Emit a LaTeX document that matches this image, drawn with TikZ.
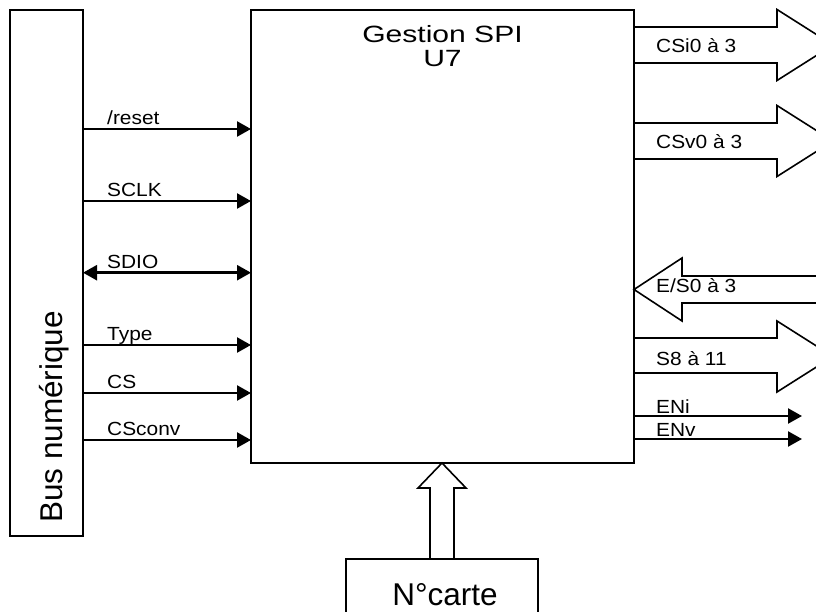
\documentclass[tikz,border=0pt]{standalone}
\usepackage{fontspec}
\setmainfont{Liberation Sans}[FakeStretch=1.1]
\newfontfamily\plainsans{Liberation Sans}
\newfontfamily\titlefont{Liberation Sans}[FakeStretch=1.28]
\usetikzlibrary{arrows.meta}

\begin{document}
\begin{tikzpicture}[x=1pt,y=-1pt,
    >={Triangle[length=14pt,width=15pt]},
    blk/.style={draw, line width=1.8pt, inner sep=0pt, outer sep=0pt, anchor=north west},
    sig/.style={line width=2.4pt, ->},
    bigarrow/.style={line width=1.6pt, line join=miter},
    lab/.style={anchor=base west, inner sep=0pt, font=\fontsize{19}{22}\selectfont},
    titre/.style={anchor=base, inner sep=0pt, font=\titlefont\fontsize{23.5}{26}\selectfont}]
        \useasboundingbox (0,0) rectangle (816,612);
        % Blocks
        \node[blk, minimum width=73, minimum height=526] (bus) at (10,10) {};
        \node[blk, minimum width=383, minimum height=453] (spi) at (251,10) {};
        \node[blk, minimum width=192, minimum height=90] (carte) at (346,559) {};
        % Block texts
        \node[rotate=90, anchor=base west, inner sep=0pt, font=\plainsans\fontsize{31.5}{36}\selectfont] (bustxt) at (62,523) {Bus numérique};
        \node[titre] (titre) at (spi.north |- 0,42.5) {Gestion SPI};
        \node[titre] (ref) at (spi.north |- 0,66.5) {U7};
        \node[anchor=base, inner sep=0pt, font=\plainsans\fontsize{31.5}{36}\selectfont] (cartetxt) at (445,605) {N°carte};
        % Inputs from the bus
        \foreach \y/\txt [count=\i] in {129/{/reset}, 201/SCLK, 345/Type, 393/CS, 440/CSconv} {
          \coordinate (in\i) at (bus.east |- 0,\y);
          \draw[sig] (in\i) -- (in\i -| spi.west);
          \node[lab] (lin\i) at (107,\y-4.5) {\txt};
        }
        \coordinate (sdio) at (bus.east |- 0,272.7);
        \draw[sig, <->] (sdio) -- (sdio -| spi.west);
        \node[lab] (lsdio) at (107,268.2) {SDIO};
        % Outputs
        \draw[bigarrow] (634,27) -- (777,27) -- (777,9.5) -- (833,45) -- (777,80.5) -- (777,63) -- (634,63);
        \node[lab] (lcsi) at (656,52.7) {CSi0 à 3};
        \draw[bigarrow] (634,123) -- (777,123) -- (777,105.5) -- (833,141) -- (777,176.5) -- (777,159) -- (634,159);
        \node[lab] (lcsv) at (656,148.3) {CSv0 à 3};
        \draw[bigarrow] (830,276) -- (682,276) -- (682,258) -- (634,289.5) -- (682,321) -- (682,303) -- (830,303);
        \node[lab] (les) at (656,292.7) {E/S0 à 3};
        \draw[bigarrow] (634,338) -- (777,338) -- (777,321) -- (833,356.5) -- (777,392) -- (777,373) -- (634,373);
        \node[lab] (ls8) at (656,365) {S8 à 11};
        \coordinate (eni) at (spi.east |- 0,416);
        \coordinate (enifin) at (802,416);
        \draw[sig] (eni) -- (enifin);
        \node[lab] (leni) at (656,413) {ENi};
        \coordinate (env) at (spi.east |- 0,439);
        \coordinate (envfin) at (802,439);
        \draw[sig] (env) -- (envfin);
        \node[lab] (lenv) at (656,436) {ENv};
        % Card number
        \draw[bigarrow] (430,559) -- (430,488) -- (418,488) -- (442,463) -- (466,488) -- (454,488) -- (454,559);
\end{tikzpicture}
\end{document}
